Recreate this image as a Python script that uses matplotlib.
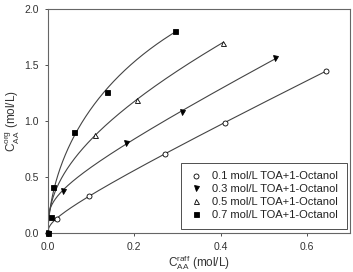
import numpy as np
import matplotlib
matplotlib.use("Agg")
import matplotlib.pyplot as plt

# data
x_01 = [0.0, 0.020, 0.095, 0.270, 0.410, 0.645]
y_01 = [0.0, 0.13, 0.33, 0.71, 0.98, 1.45]
x_03 = [0.0, 0.034, 0.180, 0.310, 0.527]
y_03 = [0.0, 0.38, 0.80, 1.08, 1.56]
x_05 = [0.110, 0.205, 0.405]
y_05 = [0.875, 1.19, 1.70]
x_07 = [0.0, 0.006, 0.012, 0.060, 0.136, 0.295]
y_07 = [0.0, 0.145, 0.41, 0.90, 1.26, 1.80]

labels = ["0.1 mol/L TOA+1-Octanol", "0.3 mol/L TOA+1-Octanol",
          "0.5 mol/L TOA+1-Octanol", "0.7 mol/L TOA+1-Octanol"]

series = [(x_01, y_01, "o", "white"),
          (x_03, y_03, "v", "black"),
          (x_05, y_05, "^", "white"),
          (x_07, y_07, "s", "black")]

plt.rcParams["font.family"] = ["Liberation Sans", "DejaVu Sans"]
plt.rcParams["mathtext.fontset"] = "custom"
plt.rcParams["mathtext.rm"] = "Liberation Sans"


def fit_curve(xs, ys):
    # y = a*x + b*x^p through origin, p picked by least squares
    nz = xs > 0
    best = None
    for p in np.linspace(0.05, 0.6, 56):
        A = np.column_stack([xs[nz], xs[nz] ** p])
        coef = np.linalg.lstsq(A, ys[nz], rcond=None)[0]
        err = np.sum((A @ coef - ys[nz]) ** 2)
        if best is None or err < best[0]:
            best = (err, p, coef)
    _, p, coef = best
    xf = np.linspace(0, xs.max(), 400)
    return xf, coef[0] * xf + coef[1] * xf ** p


fig = plt.figure(figsize=(3.53, 2.72), dpi=100)
ax = fig.add_axes([0.136, 0.143, 0.856, 0.824])

gray = "#444444"
for (xs, ys, m, fc), lab in zip(series, labels):
    xs = np.array(xs)
    ys = np.array(ys)
    xf, yf = fit_curve(xs, ys)
    ax.plot(xf, yf, color=gray, lw=0.8, zorder=2)
    ax.plot(xs, ys, ls="none", marker=m, ms=3.6, mfc=fc, mec="black",
            mew=0.6, label=lab, zorder=3, clip_on=False)

ax.set_xlim(0, 0.7)
ax.set_ylim(0, 2.0)
ax.set_xticks([0.0, 0.2, 0.4, 0.6])
ax.set_yticks([0.0, 0.5, 1.0, 1.5, 2.0])
ax.set_xticklabels(["0.0", "0.2", "0.4", "0.6"])
ax.set_yticklabels(["0.0", "0.5", "1.0", "1.5", "2.0"])
ax.tick_params(direction="out", length=2.5, width=0.6, labelsize=7.5,
               colors="#333333", pad=4)
for s in ax.spines.values():
    s.set_color("#666666")
    s.set_linewidth(0.8)

ax.set_ylabel(r"C$^{\mathrm{org}}_{\mathrm{AA}}$ (mol/L)", fontsize=8.5,
              color="#333333", labelpad=2)
ax.set_xlabel(r"C$^{\mathrm{raff}}_{\mathrm{AA}}$ (mol/L)", fontsize=8.5,
              color="#333333", labelpad=1)

leg = ax.legend(loc="lower right", bbox_to_anchor=(0.99, 0.02), fontsize=8,
                fancybox=False, edgecolor="#333333", framealpha=1,
                handlelength=1.0, handletextpad=1.0, borderpad=0.8,
                labelspacing=0.25, borderaxespad=0)
leg.get_frame().set_linewidth(0.6)
for t in leg.get_texts():
    t.set_color("#222222")

fig.savefig("out.png", dpi=100)
